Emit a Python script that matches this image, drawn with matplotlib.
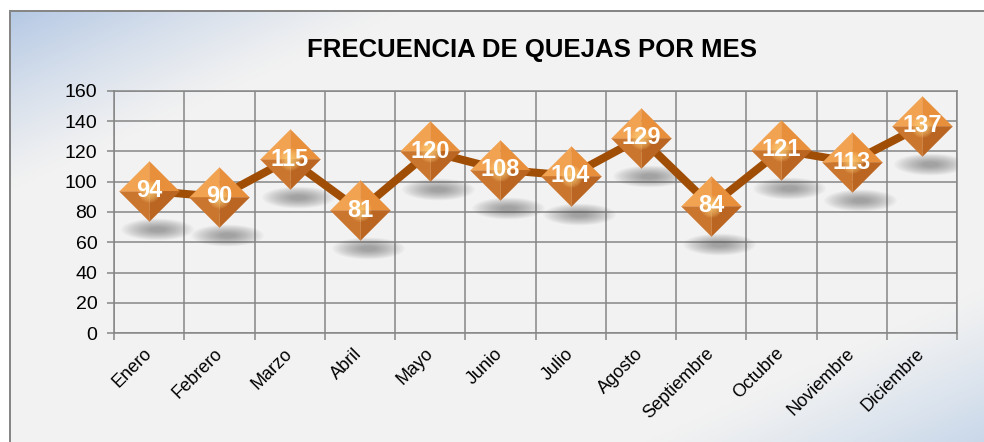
import numpy as np
import matplotlib
matplotlib.use("Agg")
import matplotlib.pyplot as plt
import matplotlib.transforms as mtransforms

plt.rcParams['font.family'] = ['Liberation Sans', 'DejaVu Sans']

meses = ["Enero", "Febrero", "Marzo", "Abril", "Mayo", "Junio", "Julio",
         "Agosto", "Septiembre", "Octubre", "Noviembre", "Diciembre"]
quejas = [94, 90, 115, 81, 120, 108, 104, 129, 84, 121, 113, 137]
titulo = "FRECUENCIA DE QUEJAS POR MES"
yticks = [0, 20, 40, 60, 80, 100, 120, 140, 160]

W, H, DPI = 984, 442, 100
fig = plt.figure(figsize=(W / DPI, H / DPI), dpi=DPI)

# fondo: degradado diagonal azul-gris con marco gris
yy, xx = np.mgrid[0:H, 0:W].astype(float)
u = (xx - 9) / 990.0
v = (yy - 10) / 450.0
t = np.clip((u + v) / 2, 0, 1)
azul1 = np.array([180, 200, 228]) / 255
azul2 = np.array([192, 210, 232]) / 255
gris = np.array([242, 242, 242]) / 255
w1 = np.clip(1 - t / 0.2, 0, 1)[..., None] ** 1.2
w2 = np.clip((t - 0.8) / 0.2, 0, 1)[..., None] ** 1.2
bg = gris * (1 - w1 - w2) + azul1 * w1 + azul2 * w2
bg[:10, :] = 1.0
bg[:, :9] = 1.0
borde = np.array([134, 134, 134]) / 255
bg[10:12, 9:] = borde
bg[10:, 9:11] = borde
fig.figimage(bg, 0, 0, zorder=0)

ax = fig.add_axes([114 / W, (H - 333) / H, (957 - 114) / W, (333 - 91) / H])
ax.set_zorder(2)
ax.set_facecolor("none")
ax.set_xlim(-0.5, len(meses) - 0.5)
ax.set_ylim(0, 160)

gc = "#868686"
ax.set_yticks(yticks)
ax.set_xticks(range(len(meses)))
ax.set_xticks(np.arange(-0.5, len(meses)), minor=True)
ax.set_xticklabels(meses, rotation=45, ha="right", va="center",
                   rotation_mode="anchor", fontsize=13)
ax.tick_params(axis="x", which="major", length=0, pad=13)
ax.tick_params(axis="x", which="minor", length=5, width=1.1, color=gc)
ax.tick_params(axis="y", length=5, width=1.1, color=gc, labelsize=14, pad=7)
ax.grid(True, axis="y", color=gc, lw=1.1)
ax.grid(True, axis="x", which="minor", color=gc, lw=1.1)
for s in ax.spines.values():
    s.set_color(gc)
    s.set_linewidth(1.1)
ax.set_axisbelow(True)

x = np.arange(len(meses))

# sombras difusas bajo los marcadores
sombra_tr = ax.transData + mtransforms.ScaledTranslation(8 / DPI, -38 / DPI, fig.dpi_scale_trans)
ang = np.linspace(0, 2 * np.pi, 60)
elipse = list(zip(np.cos(ang), 0.3 * np.sin(ang)))
for k, esc in enumerate(np.linspace(1.45, 0.3, 14)):
    ax.plot(x, quejas, ls="none", marker=elipse, ms=50 * esc * 0.72,
            mfc="#505050", mew=0, alpha=0.045, transform=sombra_tr, zorder=2)

ax.plot(x, quejas, color="#A04E06", lw=5.8, zorder=3, solid_capstyle="round")

# marcador tipo pirámide: cuatro caras con distinto tono
caras = [
    ([(0, 0), (-1, 0), (0, 1)], "#F2A352"),
    ([(0, 0), (0, 1), (1, 0)], "#E88F3C"),
    ([(0, 0), (1, 0), (0, -1)], "#BA6522"),
    ([(0, 0), (0, -1), (-1, 0)], "#CB762F"),
]
for verts, col in caras:
    ax.plot(x, quejas, ls="none", marker=verts, ms=43, mfc=col,
            mec=col, mew=0.3, zorder=4)
for k, esc in enumerate(np.linspace(16, 4, 7)):
    ax.plot(x, quejas, ls="none", marker="o", ms=esc, mfc="#FFD27A",
            mew=0, alpha=0.16, zorder=5)

for xi, q in zip(x, quejas):
    ax.text(xi, q, str(q), ha="center", va="center", color="white",
            fontsize=17, fontweight="bold", zorder=6)

fig.text(532 / W, 1 - 57 / H, titulo, ha="center", va="baseline",
         fontsize=18.5, fontweight="bold", color="black")

fig.savefig("out.png", dpi=DPI)
